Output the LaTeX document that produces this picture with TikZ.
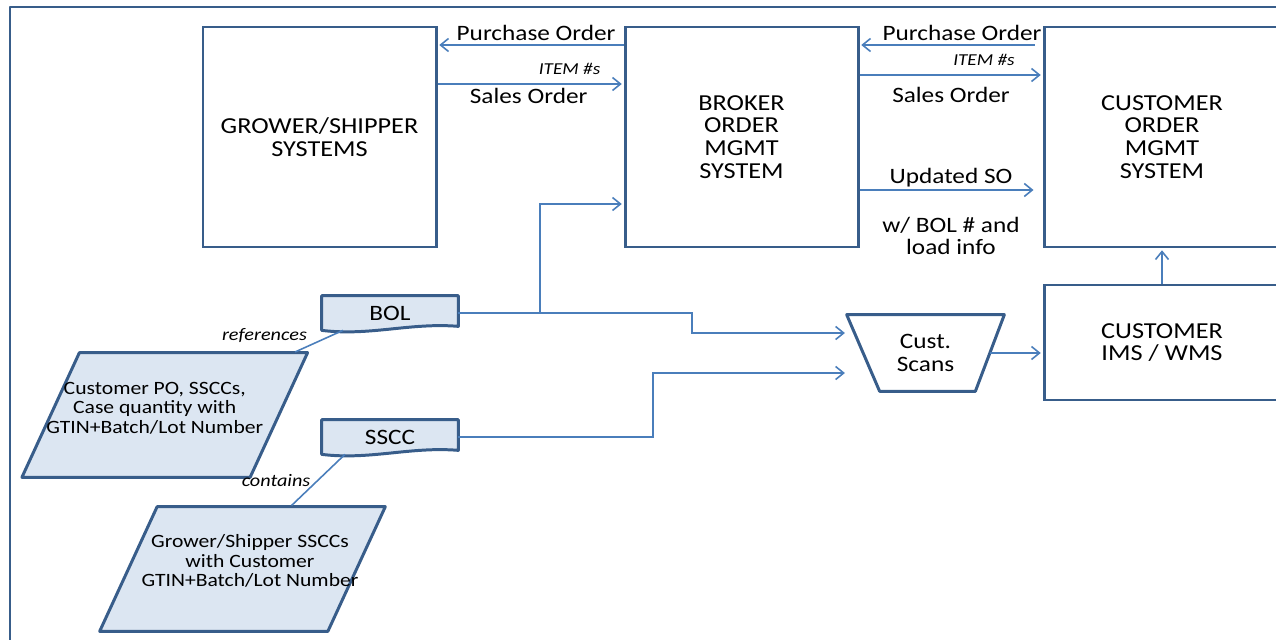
\documentclass[tikz,border=0pt]{standalone}
\usepackage{fontspec}
\setmainfont{Carlito}[FakeStretch=1.15]
\usetikzlibrary{arrows.meta,backgrounds,calc}
\definecolor{boxblue}{HTML}{385D8A}
\definecolor{lineblue}{HTML}{4A7EBB}
\definecolor{docfill}{HTML}{DCE6F2}

\begin{document}
\begin{tikzpicture}[
        >={Straight Barb[length=1.6mm,width=2.6mm]},
        sys/.style={draw=boxblue, line width=1.7pt, minimum width=4.66cm, minimum height=4.4cm, align=center, font=\fontsize{13}{13}\selectfont},
        doc/.style={minimum width=2.72cm, minimum height=0.68cm, font=\fontsize{12.5}{13}\selectfont},
        datapara/.style={minimum width=5.7cm, minimum height=2.48cm, inner sep=0pt},
        paratext/.style={align=center, font=\fontsize{10.7}{11}\selectfont},
        outline/.style={boxblue, line width=1.7pt, line join=round},
        flow/.style={lineblue, line width=0.9pt, shorten >=1pt},
        tag/.style={text=black, font=\fontsize{12.5}{13}\selectfont, inner sep=2pt},
        note/.style={text=black, font=\fontsize{9.5}{10}\itshape, inner sep=2pt},
        rel/.style={text=black, font=\fontsize{10}{12}\itshape, inner sep=1pt},
    ]
        \useasboundingbox (0,0) rectangle (25.52,12.78);
        \draw [outline] (0.2,-1) -- (0.2,12.64) -- (26,12.64);

        \node[sys] (grower) at (6.39,10.04) {GROWER/SHIPPER\\SYSTEMS};
        \node[sys] (broker) at (14.83,10.04) {BROKER\\ORDER\\MGMT\\SYSTEM};
        \node[sys, minimum width=4.72cm] (custorder) at (23.24,10.04) {CUSTOMER\\ORDER\\MGMT\\SYSTEM};
        \node[sys, minimum width=4.72cm, minimum height=2.3cm] (ims) at (23.24,5.93) {CUSTOMER\\IMS / WMS};
        \node[minimum width=3.14cm, minimum height=1.52cm, inner sep=0pt, align=center, font=\fontsize{12.5}{13}\selectfont] (scans) at (18.51,5.72) {Cust.\\Scans};

        \node[doc] (bol) at (7.8,6.52) {BOL};
        \node[doc] (sscc) at (7.8,4.04) {SSCC};

        \node[datapara, label={[paratext, xshift=-0.2cm, yshift=0.14cm]center:{Customer PO, SSCCs,\\Case quantity with\\GTIN+Batch/Lot Number}}] (podata) at (3.295,4.48) {};
        \node[datapara, label={[paratext, xshift=0.15cm, yshift=0.16cm]center:{Grower/Shipper SSCCs\\with Customer\\GTIN+Batch/Lot Number}}] (ssccdata) at (4.85,1.4) {};

        \begin{scope}[on background layer]
            \foreach \d in {bol,sscc}
                \draw [outline, fill=docfill] (\d.south west) -- (\d.north west) -- (\d.north east) -- ([yshift=0.08cm]\d.south east)
                    .. controls ([yshift=0.16cm]$(\d.south west)!0.65!(\d.south east)$) and ([yshift=-0.12cm]$(\d.south west)!0.35!(\d.south east)$) .. (\d.south west) -- cycle;
            \foreach \p in {podata,ssccdata}
                \draw [outline, fill=docfill] ([xshift=1.15cm]\p.north west) -- (\p.north east) -- ([xshift=-1.15cm]\p.south east) -- (\p.south west) -- cycle;
            \draw [outline] (scans.north west) -- (scans.north east) -- ([xshift=-0.58cm]scans.south east) -- ([xshift=0.66cm]scans.south west) -- cycle;
        \end{scope}

        % orders
        \draw [flow, ->] (broker.west |- 0,11.88) -- node[tag, pos=0.47, above] {Purchase Order} (grower.east |- 0,11.88);
        \draw [flow, ->] (grower.east |- 0,11.1) -- node[note, pos=0.71, above=0.1cm] {ITEM \#s} node[tag, pos=0.49, below] {Sales Order} (broker.west |- 0,11.1);
        \draw [flow, ->, shorten <=0.16cm] (custorder.west |- 0,11.88) -- node[tag, pos=0.44, above] {Purchase Order} (broker.east |- 0,11.88);
        \draw [flow, ->] (broker.east |- 0,11.28) -- node[note, pos=0.68, above=0.1cm] {ITEM \#s} node[tag, pos=0.5, below=0.15cm] {Sales Order} (custorder.west |- 0,11.28);
        \draw [flow, ->, shorten >=0.18cm] (broker.east |- 0,8.98) -- node[tag, above=-1pt] {Updated SO} node[tag, below=0.45cm, align=center] {w/ BOL \# and\\load info} (custorder.west |- 0,8.98);

        % shipment
        \coordinate (split) at (bol.east -| 10.8,0);
        \coordinate (jog) at (13.84,6.12);
        \coordinate (jog2) at (13.06,5.32);
        \coordinate (scansout) at ($(scans.north east)!0.5!([xshift=-0.58cm]scans.south east)$);
        \draw [flow, ->] (bol.east) -- (split) |- ([yshift=-1.34cm]broker.west);
        \draw [flow, ->] (split) -| (jog) -- (jog -| scans.west);
        \draw [flow, ->] (sscc.east) -| (jog2) -- (jog2 -| scans.west);
        \draw [flow, ->] (scansout) -- (scansout -| ims.west);
        \draw [flow, ->] (ims.north) -- (custorder.south);

        \draw [flow] ([xshift=-0.94cm]bol.south) -- node[rel, pos=0.68, anchor=south east] {references} ([xshift=-0.28cm]podata.north east);
        \draw [flow] ([xshift=-0.9cm]sscc.south) -- node[rel, pos=0.62, anchor=base east, inner sep=0pt] {contains} ([xshift=-1.9cm]ssccdata.north east);
    \end{tikzpicture}
\end{document}
